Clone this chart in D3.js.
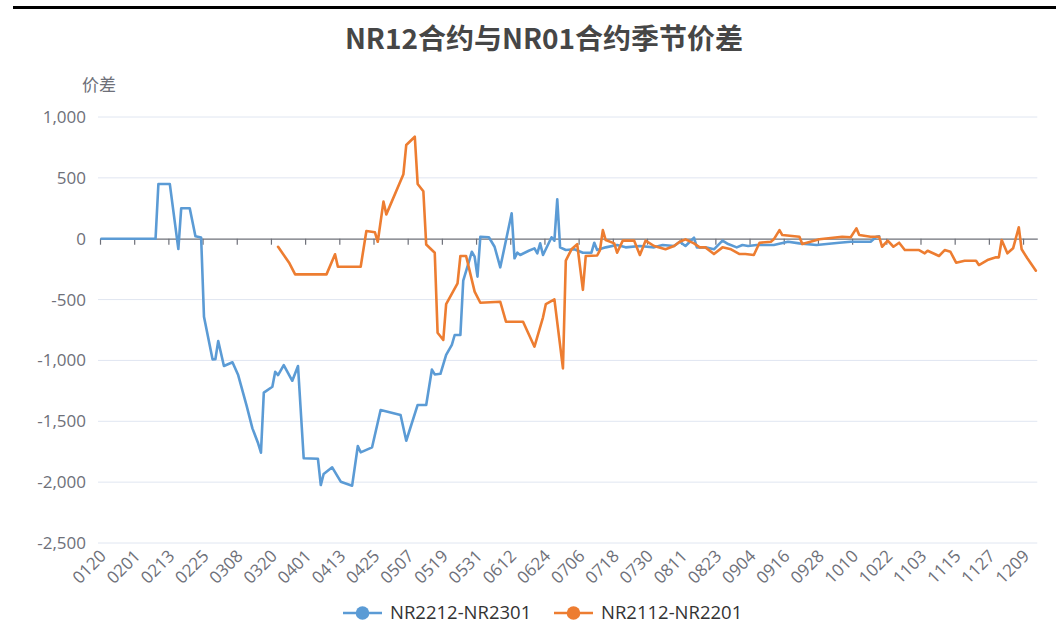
<!DOCTYPE html>
<html>
<head>
<meta charset="utf-8">
<script src="https://cdn.jsdelivr.net/npm/d3@7"></script>
<style>
html,body{margin:0;padding:0;background:#fff;}
svg{display:block;}
</style>
</head>
<body>
<svg id="chart" width="1056" height="643"></svg>
<script>
// ---- data ----
const tickLabels = ["0120","0201","0213","0225","0308","0320","0401","0413","0425","0507","0519","0531","0612","0624","0706","0718","0730","0811","0823","0904","0916","0928","1010","1022","1103","1115","1127","1209"];
const yTicks = [1000, 500, 0, -500, -1000, -1500, -2000, -2500];
const seriesNames = ["NR2212-NR2301", "NR2112-NR2201"];

const blueDates = ["0120","0208","0209","0213","0216","0217","0220","0222","0224","0225","0228","0229","0301","0303","0306","0308","0311","0313","0315","0316","0317","0320","0321","0322","0324","0327","0329","0331","0405","0406","0407","0410","0413","0417","0419","0420","0424","0427","0504","0506","0510","0513","0515","0516","0518","0520","0522","0523","0525","0526","0528","0529","0530","0531","0601","0604","0606","0608","0612","0613","0614","0615","0618","0620","0621","0622","0623","0626","0627","0628","0629","0701","0704","0707","0710","0711","0712","0715","0719","0722","0727","0801","0804","0808","0810","0812","0815","0816","0819","0822","0825","0827","0830","0901","0903","0906","0912","0917","0921","0927","1005","1009","1016","1018","1019"];
const blueValues = [0,0,450,450,-85,250,250,20,10,-641,-991,-990,-840,-1046,-1015,-1120,-1375,-1558,-1681,-1758,-1265,-1216,-1093,-1120,-1038,-1167,-1046,-1804,-1808,-2024,-1933,-1878,-1996,-2029,-1703,-1755,-1714,-1407,-1448,-1660,-1366,-1366,-1075,-1115,-1110,-955,-873,-791,-791,-345,-189,-107,-148,-312,16,12,-66,-235,209,-161,-115,-134,-99,-79,-120,-38,-134,12,-16,324,-71,-93,-87,-115,-115,-33,-93,-71,-52,-71,-60,-71,-52,-60,-25,-60,8,-71,-71,-87,-16,-44,-71,-52,-60,-52,-52,-25,-38,-52,-33,-25,-25,16,20];

const orangeDates = ["0322","0326","0328","0408","0411","0412","0420","0422","0425","0426","0428","0429","0505","0506","0509","0510","0512","0513","0516","0517","0519","0520","0524","0525","0527","0530","0601","0608","0610","0616","0620","0623","0624","0627","0630","0701","0703","0705","0707","0708","0712","0713","0714","0715","0718","0719","0721","0725","0727","0729","0801","0805","0808","0810","0812","0815","0817","0819","0822","0825","0828","0831","0902","0905","0907","0911","0912","0914","0915","0921","0922","0928","1006","1009","1011","1012","1016","1019","1020","1022","1024","1026","1028","1102","1104","1105","1109","1111","1113","1115","1118","1122","1123","1126","1129","1130","1201","1203","1205","1207","1208","1210","1213"];
const orangeValues = [-66,-202,-293,-293,-128,-230,-230,63,53,-25,305,200,530,770,838,450,390,-48,-115,-772,-832,-537,-367,-142,-142,-435,-526,-518,-682,-682,-887,-646,-537,-498,-1065,-180,-87,-45,-420,-142,-138,-93,71,-11,-38,-115,-16,-16,-134,-16,-60,-87,-60,-25,-5,-38,-71,-71,-126,-71,-87,-126,-126,-134,-33,-25,-5,71,30,16,-44,-5,16,12,85,30,16,16,-66,-16,-66,-33,-93,-93,-120,-99,-142,-93,-107,-197,-181,-181,-216,-175,-153,-153,-11,-120,-79,94,-87,-161,-263];

const colors = ["#5B9BD5", "#ED7D31"];

// ---- chart ----
const svg = d3.select("#chart");
const W = 1056;
const plotL = 100, plotR = 1037.3, plotT = 117, plotB = 543;

const parse = s => d3.timeParse("%Y%m%d")("2020" + s);
const x = d3.scaleTime()
  .domain([parse("0120"), parse("1214")])
  .range([plotL, plotR]);
const step = x(parse("0121")) - x(parse("0120"));
const y = d3.scaleLinear().domain([-2500, 1000]).range([plotB, plotT]);

const axisFont = "'Open Sans','Noto Sans CJK SC',sans-serif";
const cjkFont = "'Noto Sans CJK SC','Noto Sans',sans-serif";
const fmt = d3.formatLocale({decimal: ".", thousands: ",", grouping: [3], currency: ["", ""], minus: "-"}).format(",");

// top black rule
svg.append("rect").attr("x", 13).attr("y", 6).attr("width", W - 13).attr("height", 3).attr("fill", "#000");

// title
svg.append("text")
  .attr("x", 544).attr("y", 49)
  .attr("text-anchor", "middle")
  .attr("font-family", cjkFont)
  .attr("font-weight", "bold")
  .attr("font-size", 28)
  .attr("fill", "#464646")
  .text("NR12合约与NR01合约季节价差");

// y axis name
svg.append("text")
  .attr("x", 99).attr("y", 91)
  .attr("text-anchor", "middle")
  .attr("font-family", cjkFont)
  .attr("font-size", 17)
  .attr("fill", "#6E7079")
  .text("价差");

// gridlines
svg.append("g").selectAll("line").data(yTicks.filter(v => v !== 0)).join("line")
  .attr("x1", plotL - 2).attr("x2", plotR)
  .attr("y1", d => y(d)).attr("y2", d => y(d))
  .attr("stroke", "#E0E6F1").attr("stroke-width", 1);

// y axis labels via d3 axis
const yAxis = d3.axisLeft(y).tickValues(yTicks).tickFormat(fmt).tickSize(0).tickPadding(0);
const yg = svg.append("g").attr("transform", `translate(${plotL - 14},0)`).call(yAxis);
yg.select(".domain").remove();
yg.selectAll("text").attr("font-family", axisFont).attr("font-size", 17).attr("fill", "#6E7079");

// zero axis line with ticks
const tickDates = tickLabels.map(parse);
const xAxis = d3.axisBottom(x).tickValues(tickDates).tickFormat("").tickSize(6).tickSizeOuter(0);
const xg = svg.append("g").attr("transform", `translate(0,${y(0)})`).call(xAxis);
xg.select(".domain").attr("stroke", "#6E7079").attr("stroke-width", 1.2);
xg.selectAll(".tick line").attr("stroke", "#6E7079").attr("stroke-width", 1.2);

// x labels at the bottom, rotated
svg.append("g").selectAll("text").data(tickLabels).join("text")
  .attr("transform", d => `translate(${x(parse(d)) + 3},${plotB + 10}) rotate(-45)`)
  .attr("text-anchor", "end")
  .attr("dy", "0.35em")
  .attr("font-family", axisFont)
  .attr("font-size", 17)
  .attr("fill", "#6E7079")
  .text(d => d);

// lines
const line = d3.line().x(d => x(parse(d[0])) + step / 2).y(d => y(d[1]));
const blue = d3.zip(blueDates, blueValues);
const orange = d3.zip(orangeDates, orangeValues);
[blue, orange].forEach((data, i) => {
  svg.append("path").datum(data)
    .attr("d", line)
    .attr("fill", "none")
    .attr("stroke", colors[i])
    .attr("stroke-width", 2.6)
    .attr("stroke-linejoin", "round")
    .attr("stroke-linecap", "round");
});

// legend
const legendItems = [
  {name: seriesNames[0], color: colors[0], x0: 343},
  {name: seriesNames[1], color: colors[1], x0: 554}
];
const lg = svg.append("g");
legendItems.forEach(it => {
  const g = lg.append("g");
  g.append("line").attr("x1", it.x0).attr("x2", it.x0 + 39).attr("y1", 613).attr("y2", 613)
    .attr("stroke", it.color).attr("stroke-width", 2.6);
  g.append("circle").attr("cx", it.x0 + 19.5).attr("cy", 613).attr("r", 6.8).attr("fill", it.color);
  g.append("text").attr("x", it.x0 + 47).attr("y", 613).attr("dy", "0.35em")
    .attr("font-family", axisFont).attr("font-size", 18.5).attr("fill", "#333")
    .text(it.name);
});
</script>
</body>
</html>
